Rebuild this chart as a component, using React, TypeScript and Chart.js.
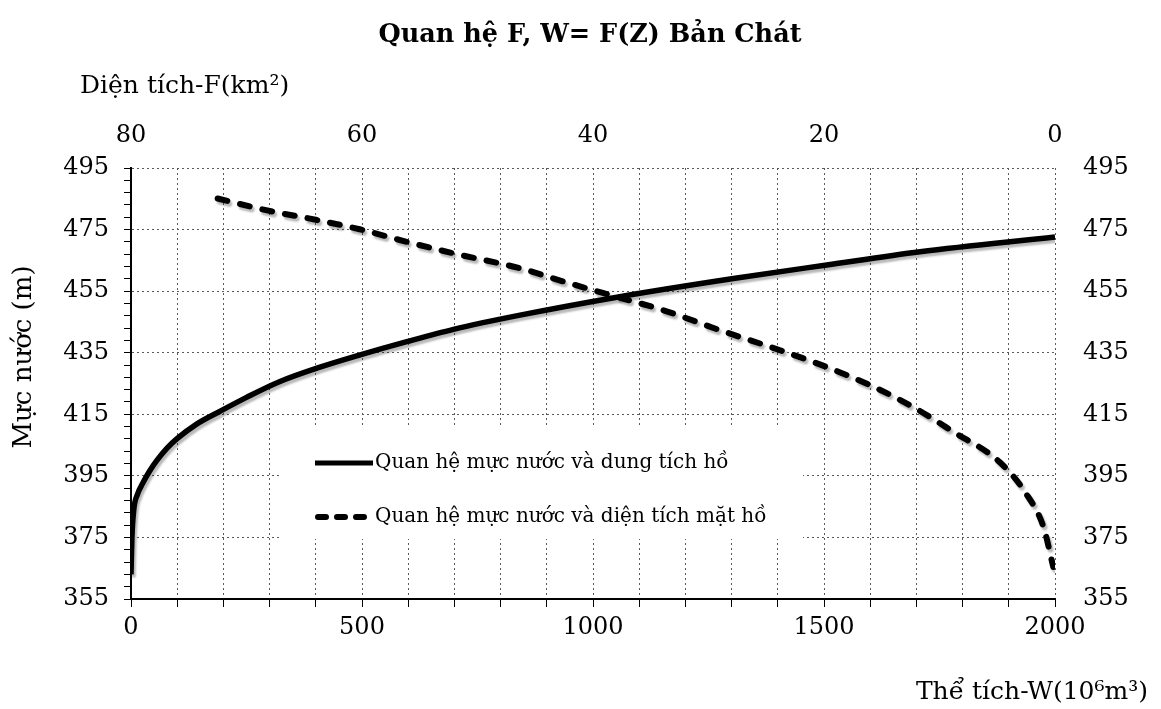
import React, { useEffect, useRef } from 'react';
import { Chart, registerables } from 'chart.js';

Chart.register(...registerables);

// Water level vs. storage volume: W (10^6 m3) and Z (m)
const volumeW = [0, 2, 6, 14, 25, 40, 56, 78, 99, 142, 193, 250, 320, 409, 496, 597, 698, 842, 1058, 1304, 1506, 1708, 2000];
const volumeZ = [363, 375, 384, 389, 392.5, 396.5, 400, 404, 407, 411.8, 416, 420.5, 425.5, 430.3, 434.3, 438.6, 442.6, 447.2, 453.2, 459.1, 463.5, 467.8, 472.6];

// Water level vs. surface area: F (km2) and Z (m)
const areaF = [72.5, 68.3, 63.9, 60.2, 56.1, 52.1, 46.3, 42.0, 38.0, 33.9, 29.0, 23.8, 19.8, 15.7, 12.3, 8.8, 4.8, 2.5, 1.0, 0.15];
const areaZ = [485.1, 481.3, 478.1, 475.1, 471.0, 467.3, 462.4, 457.5, 453.2, 448.8, 442.3, 435.8, 430.4, 423.9, 417.4, 409.3, 399.5, 389.2, 378.4, 365.4];

// Axis tick labels
const levelTicks = [355, 375, 395, 415, 435, 455, 475, 495];
const volumeTicks = [0, 500, 1000, 1500, 2000];
const areaTicks = [0, 20, 40, 60, 80];

const chartTitle = 'Quan hệ F, W= F(Z) Bản Chát';
const levelAxisTitle = 'Mực nước (m)';
const areaAxisTitle = 'Diện tích-F(km²)';
const volumeAxisTitle = 'Thể tích-W(10⁶m³)';
const seriesLabels = ['Quan hệ mực nước và dung tích hồ', 'Quan hệ mực nước và diện tích mặt hồ'];

const SERIF = '"DejaVu Serif", serif';
const levelMin = levelTicks[0];
const levelMax = levelTicks[levelTicks.length - 1];
const levelMinorStep = 4;
const levelMajorStep = levelTicks[1] - levelTicks[0];

const minorLevelTicks: number[] = [];
for (let v = levelMin; v <= levelMax; v += levelMinorStep) minorLevelTicks.push(v);

const isMajorLevel = (v: number) => Math.abs(((v - levelMin) % levelMajorStep)) < 1e-6;

const areaDash = [10, 13];

// Draws the legend panel, axis titles and chart title on the canvas
const decorPlugin = {
  id: 'decor',
  beforeDatasetDraw(chart: any) {
    const ctx = chart.ctx;
    ctx.save();
    ctx.shadowColor = 'rgba(0,0,0,0.28)';
    ctx.shadowOffsetX = 2;
    ctx.shadowOffsetY = 3;
    ctx.shadowBlur = 2;
  },
  afterDatasetDraw(chart: any) {
    chart.ctx.restore();
  },
  beforeDatasetsDraw(chart: any) {
    const ctx = chart.ctx;
    const { left, top } = chart.chartArea;
    const boxX = left + 149;
    const boxY = top + 260;
    ctx.save();
    ctx.fillStyle = '#ffffff';
    ctx.fillRect(boxX, boxY, 523, 111);

    const rows = [boxY + 35, boxY + 89];
    const sampleX0 = boxX + 35;
    const sampleX1 = boxX + 93;
    ctx.strokeStyle = '#000';
    ctx.lineCap = 'butt';
    ctx.lineWidth = 5;
    ctx.beginPath();
    ctx.moveTo(sampleX0, rows[0]);
    ctx.lineTo(sampleX1, rows[0]);
    ctx.stroke();

    ctx.lineWidth = 6;
    ctx.lineCap = 'round';
    ctx.setLineDash([8, 11]);
    ctx.beginPath();
    ctx.moveTo(sampleX0 + 3, rows[1]);
    ctx.lineTo(sampleX1 - 3, rows[1]);
    ctx.stroke();
    ctx.setLineDash([]);

    ctx.fillStyle = '#000';
    ctx.font = `20px ${SERIF}`;
    ctx.textAlign = 'left';
    ctx.textBaseline = 'middle';
    ctx.fillText(seriesLabels[0], sampleX1 + 2, rows[0]);
    ctx.fillText(seriesLabels[1], sampleX1 + 2, rows[1]);
    ctx.restore();
  },
  afterDraw(chart: any) {
    const ctx = chart.ctx;
    const { bottom, right } = chart.chartArea;
    ctx.save();
    ctx.fillStyle = '#000';
    ctx.textBaseline = 'middle';

    ctx.font = `bold 25.5px ${SERIF}`;
    ctx.textAlign = 'center';
    ctx.fillText(chartTitle, 590, 35);

    ctx.font = `25px ${SERIF}`;
    ctx.textAlign = 'left';
    ctx.fillText(areaAxisTitle, 80, 86);

    ctx.textAlign = 'right';
    ctx.fillText(volumeAxisTitle, right + 93, bottom + 93);

    ctx.translate(24, 357);
    ctx.rotate(-Math.PI / 2);
    ctx.textAlign = 'center';
    ctx.font = `26px ${SERIF}`;
    ctx.fillText(levelAxisTitle, 0, 0);
    ctx.restore();
  },
};

export default function App() {
  const canvasRef = useRef<HTMLCanvasElement | null>(null);

  useEffect(() => {
    const canvas = canvasRef.current;
    if (!canvas) return;

    const tickFont = { family: SERIF, size: 24 };
    const gridColor = '#5a5a5a';
    const gridDash = [2, 3];

    const chart = new Chart(canvas, {
      type: 'scatter',
      data: {
        datasets: [
          {
            label: seriesLabels[0],
            data: volumeW.map((w, i) => ({ x: w, y: volumeZ[i] })),
            xAxisID: 'x',
            yAxisID: 'y',
            showLine: true,
            borderColor: '#000',
            backgroundColor: '#000',
            borderWidth: 5.5,
            pointRadius: 0,
            pointHoverRadius: 0,
            cubicInterpolationMode: 'monotone',
            borderCapStyle: 'butt',
          },
          {
            label: seriesLabels[1],
            data: areaF.map((f, i) => ({ x: f, y: areaZ[i] })),
            xAxisID: 'x2',
            yAxisID: 'y',
            showLine: true,
            borderColor: '#000',
            backgroundColor: '#000',
            borderWidth: 6,
            borderDash: areaDash,
            borderCapStyle: 'round',
            pointRadius: 0,
            pointHoverRadius: 0,
            cubicInterpolationMode: 'monotone',
          },
        ],
      },
      options: {
        animation: false,
        responsive: false,
        maintainAspectRatio: false,
        layout: { padding: 0 },
        plugins: {
          legend: { display: false },
          title: { display: false },
          tooltip: { enabled: false },
        },
        scales: {
          x: {
            type: 'linear',
            position: 'bottom',
            min: volumeTicks[0],
            max: volumeTicks[volumeTicks.length - 1],
            ticks: {
              stepSize: 100,
              autoSkip: false,
              maxRotation: 0,
              color: '#000',
              font: tickFont,
              padding: 6,
              callback: (v: any) => (volumeTicks.includes(Number(v)) ? String(v) : ''),
            },
            grid: {
              color: gridColor,
              lineWidth: 1,
              tickColor: '#000',
              tickLength: 8,
              drawTicks: true,
            },
            border: { display: true, color: '#000', width: 2, dash: gridDash },
            afterFit: (s: any) => {
              s.height = 110;
            },
          },
          x2: {
            type: 'linear',
            position: 'top',
            reverse: true,
            min: areaTicks[0],
            max: areaTicks[areaTicks.length - 1],
            ticks: {
              stepSize: 20,
              autoSkip: false,
              maxRotation: 0,
              color: '#000',
              font: tickFont,
              padding: 18,
            },
            grid: { display: false, drawTicks: false },
            border: { display: false },
            afterFit: (s: any) => {
              s.height = 168;
            },
          },
          y: {
            type: 'linear',
            position: 'left',
            min: levelMin,
            max: levelMax,
            afterBuildTicks: (s: any) => {
              s.ticks = minorLevelTicks.map((v) => ({ value: v }));
            },
            ticks: {
              autoSkip: false,
              color: '#000',
              font: tickFont,
              padding: 15,
              callback: (v: any) => (isMajorLevel(Number(v)) ? String(v) : ''),
            },
            grid: {
              color: (c: any) => (c.tick && isMajorLevel(c.tick.value) ? gridColor : 'rgba(0,0,0,0)'),
              lineWidth: 1,
              tickColor: '#000',
              tickLength: 7,
              drawTicks: true,
            },
            border: { display: true, color: '#000', width: 2, dash: gridDash },
            afterFit: (s: any) => {
              s.width = 131;
            },
          },
          y2: {
            type: 'linear',
            position: 'right',
            min: levelMin,
            max: levelMax,
            afterBuildTicks: (s: any) => {
              s.ticks = levelTicks.map((v) => ({ value: v }));
            },
            ticks: {
              autoSkip: false,
              color: '#000',
              font: tickFont,
              padding: 28,
            },
            grid: { display: false, drawTicks: false },
            border: { display: false },
            afterFit: (s: any) => {
              s.width = 106;
            },
          },
        },
      },
      plugins: [decorPlugin],
    } as any);

    return () => chart.destroy();
  }, []);

  return (
    <div style={{ position: 'fixed', left: 0, top: 0, width: 1161, height: 709, background: '#fff' }}>
      <canvas ref={canvasRef} width={1161} height={709} style={{ display: 'block' }} />
    </div>
  );
}
